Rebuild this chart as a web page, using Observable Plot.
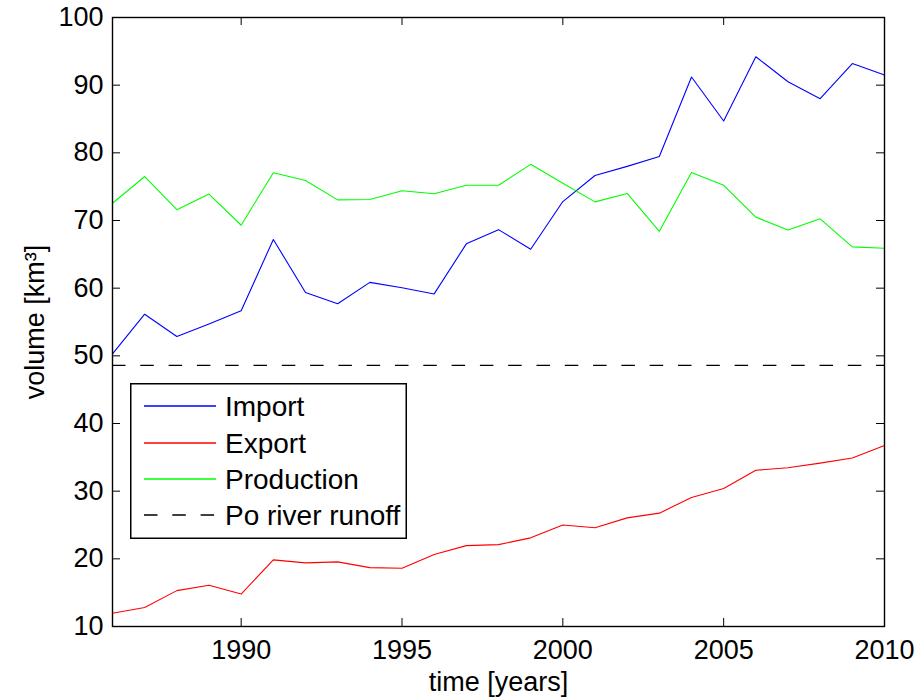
<!DOCTYPE html>
<html>
<head>
<meta charset="utf-8">
<script src="https://cdn.jsdelivr.net/npm/d3@7"></script>
<script src="https://cdn.jsdelivr.net/npm/@observablehq/plot@0.6"></script>
<style>
  html, body { margin: 0; padding: 0; background: white; }
  #wrap { position: relative; width: 919px; height: 700px; font-family: "Liberation Sans", Arial, Helvetica, sans-serif; }
  #legend { position: absolute; left: 130px; top: 383px; }
</style>
</head>
<body>
<div id="wrap"></div>
<script>
// ---- data ----
const years = [1986,1987,1988,1989,1990,1991,1992,1993,1994,1995,1996,1997,1998,1999,2000,2001,2002,2003,2004,2005,2006,2007,2008,2009,2010];
const importVals = [50.3,56.15,52.85,54.7,56.65,67.2,59.35,57.7,60.85,60.05,59.15,66.55,68.65,65.75,72.8,76.65,78.0,79.45,91.2,84.7,94.2,90.5,88.0,93.2,91.5];
const exportVals = [11.97,12.8,15.3,16.1,14.8,19.85,19.4,19.55,18.7,18.6,20.65,21.95,22.1,23.1,25.0,24.6,26.05,26.75,29.05,30.4,33.1,33.45,34.15,34.9,36.75];
const productionVals = [72.55,76.5,71.6,73.9,69.3,77.05,75.9,73.05,73.1,74.4,73.95,75.2,75.2,78.3,75.5,72.75,74.0,68.4,77.1,75.2,70.5,68.6,70.25,66.1,65.9];
const poRunoff = [48.6];
const xTicks = [1990,1995,2000,2005,2010];
const yTicks = [10,20,30,40,50,60,70,80,90,100];
const seriesNames = ["Import","Export","Production","Po river runoff"];
const seriesColors = ["#0000ff","#ff0000","#00ff00","#000000"];

// ---- layout ----
const W = 919, H = 700;
const mL = 112, mR = 35, mT = 17, mB = 74;
const innerW = W - mL - mR, innerH = H - mT - mB;
const tickLen = 8;
const dash = "13.5,14.8";

const toRows = vals => years.map((yr, i) => ({year: yr, value: vals[i]}));

const chart = Plot.plot({
  width: W,
  height: H,
  marginLeft: mL, marginRight: mR, marginTop: mT, marginBottom: mB,
  style: {fontFamily: '"Liberation Sans", Arial, Helvetica, sans-serif', fontSize: "27px", background: "white", color: "black", overflow: "visible"},
  x: {domain: [1986, 2010]},
  y: {domain: [10, 100]},
  marks: [
    Plot.line(toRows(importVals), {x: "year", y: "value", stroke: seriesColors[0], strokeWidth: 1.1}),
    Plot.line(toRows(exportVals), {x: "year", y: "value", stroke: seriesColors[1], strokeWidth: 1.1}),
    Plot.line(toRows(productionVals), {x: "year", y: "value", stroke: seriesColors[2], strokeWidth: 1.1}),
    Plot.ruleY(poRunoff, {stroke: "black", strokeWidth: 1.3, strokeDasharray: dash}),
    // inward ticks on all four sides
    Plot.ruleX(xTicks, {x: d => d, insetTop: innerH - tickLen, stroke: "black", strokeWidth: 1}),
    Plot.ruleX(xTicks, {x: d => d, insetBottom: innerH - tickLen, stroke: "black", strokeWidth: 1}),
    Plot.ruleY(yTicks, {y: d => d, insetRight: innerW - tickLen, stroke: "black", strokeWidth: 1}),
    Plot.ruleY(yTicks, {y: d => d, insetLeft: innerW - tickLen, stroke: "black", strokeWidth: 1}),
    Plot.frame({stroke: "black", strokeWidth: 1.4}),
    Plot.axisX(xTicks, {anchor: "bottom", tickSize: 0, tickPadding: 13, tickFormat: d => String(d), fontSize: 27,
      label: "time [years]", labelAnchor: "center", labelArrow: "none", labelOffset: 64}),
    Plot.axisY(yTicks, {anchor: "left", tickSize: 0, tickPadding: 9, tickFormat: d => String(d), fontSize: 27,
      label: "volume [km³]", labelAnchor: "center", labelArrow: "none", labelOffset: 88})
  ]
});

const wrap = document.getElementById("wrap");
wrap.appendChild(chart);

// ---- legend (inside plot area, as in the original) ----
const LW = 277, LH = 156, rowY = [23, 60, 96, 132];
const leg = d3.create("svg").attr("id", "legend").attr("width", LW).attr("height", LH)
  .style("font-family", '"Liberation Sans", Arial, Helvetica, sans-serif');
leg.append("rect").attr("x", 0.75).attr("y", 0.75).attr("width", LW - 1.5).attr("height", LH - 1.5)
  .attr("fill", "white").attr("stroke", "black").attr("stroke-width", 1.5);
seriesNames.forEach((name, i) => {
  leg.append("line").attr("x1", 14).attr("x2", 86).attr("y1", rowY[i]).attr("y2", rowY[i])
    .attr("stroke", seriesColors[i]).attr("stroke-width", 1.3)
    .attr("stroke-dasharray", i === 3 ? dash : null);
  leg.append("text").attr("x", 95).attr("y", rowY[i]).attr("dy", "0.36em")
    .attr("font-size", 28).attr("fill", "black").text(name);
});
wrap.appendChild(leg.node());
</script>
</body>
</html>
